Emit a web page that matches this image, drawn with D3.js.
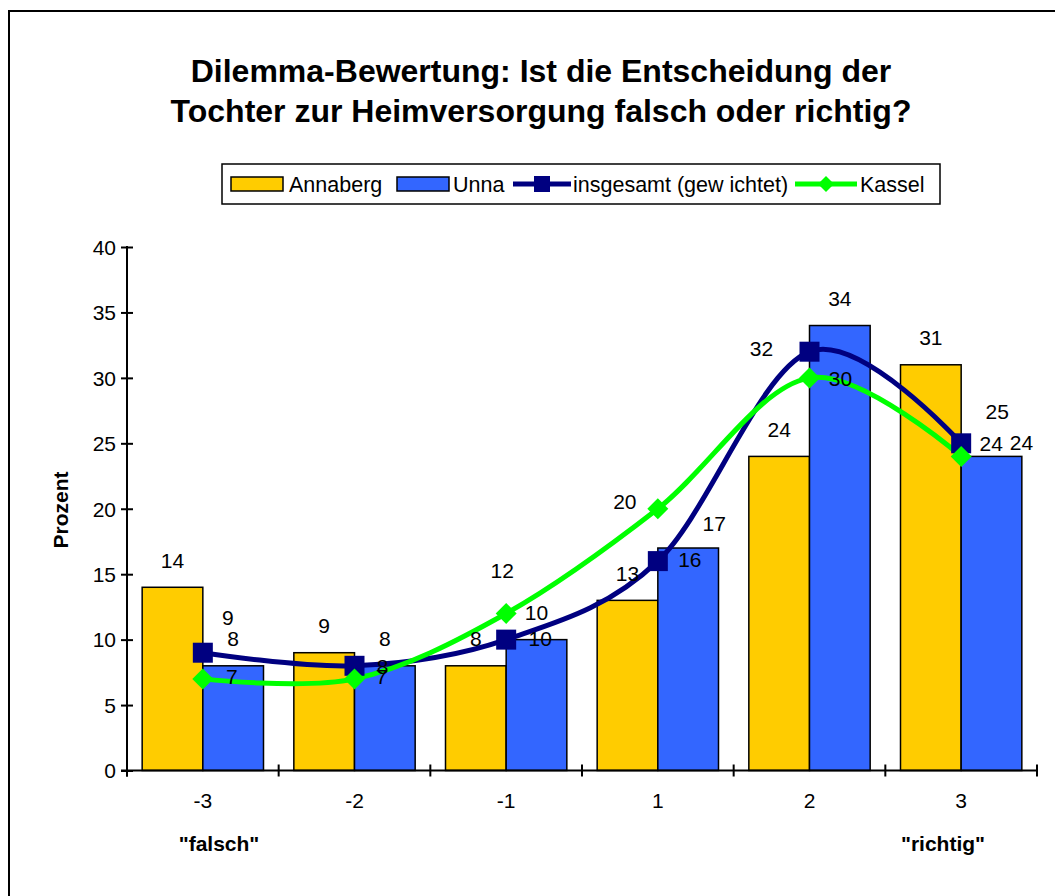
<!DOCTYPE html>
<html>
<head>
<meta charset="utf-8">
<script src="https://cdn.jsdelivr.net/npm/d3@7/dist/d3.min.js"></script>
<style>
  html, body { margin: 0; padding: 0; background: #fff; }
  svg { display: block; }
  text { font-family: Arial, "Liberation Sans", sans-serif; fill: #000; }
</style>
</head>
<body>
<svg id="chart" width="1055" height="896"></svg>
<script>
// ---- data ----
const categories = ["-3", "-2", "-1", "1", "2", "3"];
const annaberg  = [14, 9, 8, 13, 24, 31];
const unna      = [8, 8, 10, 17, 34, 24];
const insgesamt = [9, 8, 10, 16, 32, 25];
const kassel    = [7, 7, 12, 20, 30, 24];
const yTicks    = [0, 5, 10, 15, 20, 25, 30, 35, 40];
const seriesNames = ["Annaberg", "Unna", "insgesamt (gew ichtet)", "Kassel"];
const titleLines = ["Dilemma-Bewertung: Ist die Entscheidung der",
                    "Tochter zur Heimversorgung falsch oder richtig?"];
const endLabels = ["\"falsch\"", "\"richtig\""];
const yTitle = "Prozent";

// manual label offsets (label centre relative to anchor), as placed in the original
const unnaLabelOff      = [[0,-27],[0,-27],[0,-27],[26,-25],[0,-27],[30,-14]];
const kasselLabelOff    = [[29,-2],[27,-2],[-4,-43],[-33,-7],[31,1],[30,-13]];
const insgesamtLabelOff = [[25,-35],[28,1],[34,-1],[32,-2],[-48,-3],[36,-32]];

const colors = { annaberg: "#FFCC00", unna: "#3366FF", insgesamt: "#000080", kassel: "#00FF00" };
const FONT = "Arial, 'Liberation Sans', sans-serif";
const fs = 21;

const svg = d3.select("#chart");

// frame
svg.append("rect").attr("x", 9).attr("y", 11).attr("width", 1100).attr("height", 950)
  .attr("fill", "#fff").attr("stroke", "#000").attr("stroke-width", 2);

// title
svg.selectAll("text.title").data(titleLines).join("text")
  .attr("class", "title")
  .attr("x", 541).attr("y", (d, i) => 82 + i * 40)
  .attr("text-anchor", "middle")
  .attr("font-size", 32).attr("font-weight", "bold")
  .text(d => d);

// scales
const left = 127, right = 1037, y0 = 770.5, yTop = 247;
const x = d3.scaleBand().domain(categories).range([left, right]).paddingInner(0.2).paddingOuter(0.1);
const xEdges = d3.scaleBand().domain(categories).range([left, right]);
const y = d3.scaleLinear().domain([0, 40]).range([y0, yTop]);
const bw = x.bandwidth() / 2;
const cx = c => x(c) + x.bandwidth() / 2;

// bars
const g = svg.append("g");
g.selectAll("rect.a").data(annaberg).join("rect")
  .attr("x", (d, i) => x(categories[i])).attr("y", d => y(d))
  .attr("width", bw).attr("height", d => y(0) - y(d))
  .attr("fill", colors.annaberg).attr("stroke", "#000").attr("stroke-width", 1.5);
g.selectAll("rect.u").data(unna).join("rect")
  .attr("x", (d, i) => x(categories[i]) + bw).attr("y", d => y(d))
  .attr("width", bw).attr("height", d => y(0) - y(d))
  .attr("fill", colors.unna).attr("stroke", "#000").attr("stroke-width", 1.5);

// axes
const yAxis = d3.axisLeft(y).tickValues(yTicks).tickSize(6).tickPadding(5);
const ya = svg.append("g").attr("transform", `translate(${left},0)`).call(yAxis);
ya.select(".domain").remove();
ya.selectAll(".tick line").attr("x1", -6).attr("x2", 6).attr("stroke", "#000").attr("stroke-width", 2);
ya.selectAll(".tick text").attr("font-size", fs).attr("font-family", FONT).attr("dy", "0.35em");
svg.append("line").attr("x1", left).attr("x2", left).attr("y1", y(40) - 1).attr("y2", y0 + 6)
  .attr("stroke", "#000").attr("stroke-width", 2);

svg.append("line").attr("x1", left - 6).attr("x2", right + 1).attr("y1", y0).attr("y2", y0)
  .attr("stroke", "#000").attr("stroke-width", 2);
const edges = categories.map(c => xEdges(c)).concat([right]);
svg.selectAll("line.xt").data(edges).join("line")
  .attr("x1", d => d).attr("x2", d => d).attr("y1", y0 - 6).attr("y2", y0 + 6)
  .attr("stroke", "#000").attr("stroke-width", 2);
const xAxis = d3.axisBottom(x).tickSize(0).tickPadding(0);
const xa = svg.append("g").attr("transform", `translate(0,${y0})`).call(xAxis);
xa.select(".domain").remove();
xa.selectAll(".tick text").attr("font-size", fs).attr("font-family", FONT)
  .attr("y", 37).attr("dy", 0);

// end labels
svg.selectAll("text.end").data(endLabels).join("text")
  .attr("class", "end")
  .attr("x", (d, i) => i === 0 ? 219 : 943).attr("y", 851)
  .attr("text-anchor", "middle").attr("font-size", 21).attr("font-weight", "bold")
  .text(d => d);

// y title
svg.append("text").attr("transform", "translate(68,510) rotate(-90)")
  .attr("text-anchor", "middle").attr("font-size", 21).attr("font-weight", "bold").text(yTitle);

// lines
const line = d3.line().x((d, i) => cx(categories[i])).y(d => y(d)).curve(d3.curveCardinal.tension(0));
svg.append("path").datum(insgesamt).attr("d", line).attr("fill", "none")
  .attr("stroke", colors.insgesamt).attr("stroke-width", 5);
svg.append("path").datum(kassel).attr("d", line).attr("fill", "none")
  .attr("stroke", colors.kassel).attr("stroke-width", 5);

const sq = 20, dm = 10.5;
svg.selectAll("rect.m").data(insgesamt).join("rect")
  .attr("x", (d, i) => cx(categories[i]) - sq / 2).attr("y", d => y(d) - sq / 2)
  .attr("width", sq).attr("height", sq).attr("fill", colors.insgesamt);
svg.selectAll("path.k").data(kassel).join("path")
  .attr("d", (d, i) => {
    const px = cx(categories[i]), py = y(d);
    return `M${px},${py - dm}L${px + dm},${py}L${px},${py + dm}L${px - dm},${py}Z`;
  })
  .attr("fill", colors.kassel);

// data labels
const lab = svg.append("g").attr("font-size", fs).attr("text-anchor", "middle");
function labels(vals, ax, offs) {
  lab.selectAll(null).data(vals).join("text")
    .attr("x", (d, i) => ax(i) + offs[i][0])
    .attr("y", (d, i) => y(d) + offs[i][1])
    .attr("dy", "0.36em").text(d => d);
}
labels(annaberg, i => x(categories[i]) + bw / 2, annaberg.map(() => [0, -27]));
labels(unna, i => x(categories[i]) + bw * 1.5, unnaLabelOff);
labels(insgesamt, i => cx(categories[i]), insgesamtLabelOff);
labels(kassel, i => cx(categories[i]), kasselLabelOff);

// legend
const lg = svg.append("g");
lg.append("rect").attr("x", 222).attr("y", 164).attr("width", 718).attr("height", 40)
  .attr("fill", "#fff").attr("stroke", "#000").attr("stroke-width", 1.5);
const ly = 184;
const swX = [231, 397], txX = [289, 453, 573, 860];
[colors.annaberg, colors.unna].forEach((c, i) => {
  lg.append("rect").attr("x", swX[i]).attr("y", ly - 7).attr("width", 52).attr("height", 14)
    .attr("fill", c).attr("stroke", "#000").attr("stroke-width", 1.5);
});
lg.append("line").attr("x1", 513).attr("x2", 571).attr("y1", ly).attr("y2", ly)
  .attr("stroke", colors.insgesamt).attr("stroke-width", 5);
lg.append("rect").attr("x", 542 - 8).attr("y", ly - 8).attr("width", 16).attr("height", 16).attr("fill", colors.insgesamt);
lg.append("line").attr("x1", 795).attr("x2", 857).attr("y1", ly).attr("y2", ly)
  .attr("stroke", colors.kassel).attr("stroke-width", 5);
lg.append("path").attr("d", `M826,${ly - 8}L834,${ly}L826,${ly + 8}L818,${ly}Z`).attr("fill", colors.kassel);
lg.selectAll("text").data(seriesNames).join("text")
  .attr("x", (d, i) => txX[i]).attr("y", ly).attr("dy", "0.36em").attr("font-size", 21.5).text(d => d);
</script>
</body>
</html>
